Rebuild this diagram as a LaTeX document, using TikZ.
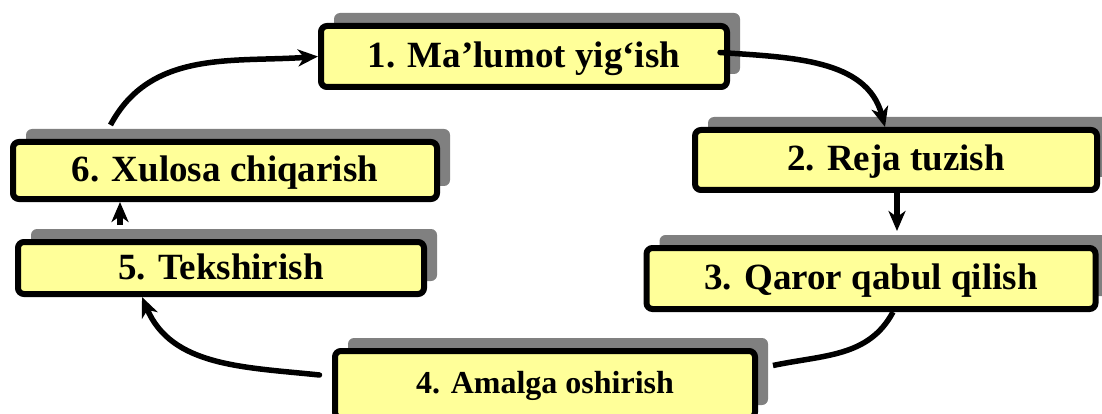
\documentclass[tikz,border=0pt]{standalone}
\usepackage{fontspec}
\setmainfont{Liberation Serif}
\usetikzlibrary{shadows,arrows.meta}
\definecolor{boxyellow}{HTML}{FFFF99}
\definecolor{shadowgray}{HTML}{808080}
\tikzset{
  stepbox/.style={draw=black, line width=6pt, rounded corners=6pt, fill=boxyellow,
    inner sep=0pt, text height=22pt, text depth=0pt,
    font=\bfseries\fontsize{37}{40}\selectfont,
    drop shadow={shadow xshift=13pt, shadow yshift=13pt, fill=shadowgray, opacity=1}},
  link/.style={line width=5.5pt, -{Stealth[length=20pt,width=17pt,inset=6pt]}},
  plainlink/.style={line width=5.5pt}
}
\begin{document}
\begin{tikzpicture}[x=1pt,y=1pt]
    \useasboundingbox (0,0) rectangle (1102,-414);

    % the six steps
    \node[stepbox, minimum width=406pt, minimum height=61pt] (yig) at (524,-56.5) {1. Ma’lumot yig‘ish};
    \node[stepbox, minimum width=402pt, minimum height=60pt] (reja) at (896,-160) {2. Reja tuzish};
    \node[stepbox, minimum width=449pt, minimum height=61pt] (qaror) at (871,-278.5) {3. Qaror qabul qilish};
    \node[stepbox, minimum width=420pt, minimum height=67pt, text height=18pt,
          font=\bfseries\fontsize{32}{36}\selectfont] (amal) at (545,-384.5) {4. Amalga oshirish};
    \node[stepbox, minimum width=406pt, minimum height=52pt] (tek) at (221,-268) {5. Tekshirish};
    \node[stepbox, minimum width=424pt, minimum height=57pt] (xul) at (225,-170.5) {6. Xulosa chiqarish};

    % the cycle
    \draw[link] ([shift={(100.5pt,14pt)}]xul.north west) to[out=62,in=184] (yig.west);
    \draw[link, line cap=round] ([shift={(-10pt,4pt)}]yig.east) to[out=-4,in=105] ([xshift=-11pt]reja.north);
    \draw[link] ([xshift=1pt]reja.south) -- ([shift={(26pt,14pt)}]qaror.north);
    \draw[plainlink] ([xshift=22pt]qaror.south) to[out=-118,in=12] ([shift={(15pt,19pt)}]amal.east);
    \draw[link, line cap=round] ([shift={(-12.5pt,9.5pt)}]amal.west) to[out=174,in=-67] ([xshift=-79pt]tek.south);
    \draw[link] ([shift={(-101pt,14pt)}]tek.north) -- ([xshift=-105pt]xul.south);
\end{tikzpicture}
\end{document}
